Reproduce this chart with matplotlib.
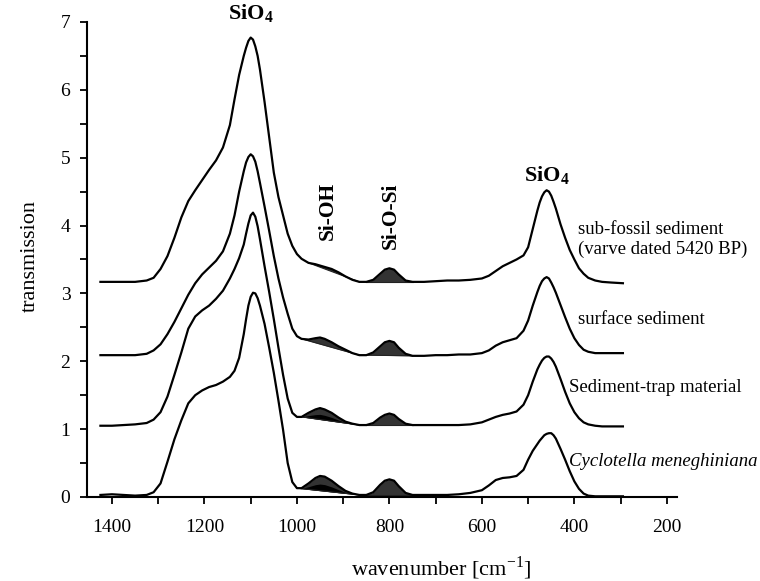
import matplotlib
matplotlib.use("Agg")
import matplotlib.pyplot as plt
import numpy as np
from matplotlib.ticker import MultipleLocator

plt.rcParams['font.family'] = ['Liberation Serif', 'DejaVu Serif']
plt.rcParams['mathtext.fontset'] = 'custom'
plt.rcParams['mathtext.rm'] = 'Liberation Serif'
plt.rcParams['mathtext.bf'] = 'Liberation Serif:bold'

# wavenumber grid (cm-1)
wavenumber = [1425, 1400, 1375, 1350, 1325, 1310, 1295, 1280, 1265, 1250,
              1235, 1220, 1205, 1190, 1175, 1160, 1145, 1135, 1125, 1115,
              1110, 1105, 1100, 1095, 1090, 1085, 1080, 1070, 1060, 1050,
              1040, 1030, 1020, 1010, 1000, 990, 975, 960, 950, 940,
              925, 910, 895, 880, 865, 850, 835, 820, 810, 800,
              790, 780, 765, 750, 725, 700, 675, 650, 625, 600,
              585, 570, 555, 540, 525, 510, 500, 490, 480, 475,
              470, 465, 460, 455, 450, 445, 440, 430, 420, 410,
              400, 390, 380, 370, 355, 340, 320, 295]

subfossil = [3.17, 3.17, 3.17, 3.17, 3.19, 3.23, 3.36, 3.55, 3.82, 4.12,
             4.36, 4.52, 4.67, 4.82, 4.96, 5.15, 5.48, 5.86, 6.22, 6.50,
             6.62, 6.72, 6.77, 6.74, 6.64, 6.50, 6.30, 5.82, 5.30, 4.78,
             4.42, 4.15, 3.88, 3.70, 3.58, 3.51, 3.45, 3.43, 3.41, 3.39,
             3.36, 3.31, 3.25, 3.20, 3.17, 3.17, 3.20, 3.29, 3.35, 3.37,
             3.35, 3.28, 3.19, 3.17, 3.17, 3.18, 3.19, 3.19, 3.20, 3.22,
             3.26, 3.33, 3.40, 3.45, 3.50, 3.56, 3.68, 3.95, 4.22, 4.34,
             4.43, 4.49, 4.52, 4.50, 4.44, 4.35, 4.25, 4.02, 3.82, 3.64,
             3.50, 3.37, 3.29, 3.23, 3.19, 3.17, 3.16, 3.15]

surface = [2.09, 2.09, 2.09, 2.09, 2.11, 2.16, 2.25, 2.40, 2.58, 2.78,
           2.98, 3.15, 3.28, 3.38, 3.48, 3.62, 3.88, 4.15, 4.50, 4.80,
           4.93, 5.01, 5.05, 5.02, 4.94, 4.80, 4.63, 4.28, 3.92, 3.55,
           3.22, 2.94, 2.70, 2.48, 2.37, 2.33, 2.32, 2.34, 2.35, 2.33,
           2.28, 2.22, 2.17, 2.12, 2.09, 2.09, 2.13, 2.22, 2.28, 2.30,
           2.28, 2.20, 2.11, 2.08, 2.08, 2.09, 2.09, 2.10, 2.10, 2.12,
           2.16, 2.23, 2.28, 2.31, 2.34, 2.45, 2.60, 2.82, 3.02, 3.11,
           3.18, 3.22, 3.24, 3.22, 3.16, 3.09, 3.01, 2.83, 2.65, 2.48,
           2.34, 2.24, 2.17, 2.14, 2.12, 2.12, 2.12, 2.12]

trap = [1.05, 1.05, 1.06, 1.07, 1.09, 1.14, 1.25, 1.48, 1.80, 2.13,
        2.48, 2.66, 2.75, 2.82, 2.92, 3.04, 3.22, 3.36, 3.52, 3.72,
        3.88, 4.03, 4.15, 4.19, 4.13, 3.99, 3.80, 3.40, 3.02, 2.62,
        2.20, 1.80, 1.45, 1.24, 1.18, 1.18, 1.24, 1.29, 1.31, 1.29,
        1.24, 1.17, 1.11, 1.08, 1.06, 1.06, 1.09, 1.17, 1.21, 1.23,
        1.21, 1.15, 1.08, 1.06, 1.06, 1.06, 1.06, 1.06, 1.07, 1.10,
        1.14, 1.18, 1.21, 1.23, 1.26, 1.36, 1.50, 1.70, 1.88, 1.95,
        2.01, 2.05, 2.07, 2.07, 2.04, 1.99, 1.92, 1.74, 1.55, 1.38,
        1.25, 1.16, 1.10, 1.07, 1.05, 1.04, 1.04, 1.04]

cyclotella = [0.03, 0.04, 0.03, 0.02, 0.03, 0.07, 0.20, 0.52, 0.85, 1.13,
              1.38, 1.50, 1.57, 1.62, 1.65, 1.70, 1.77, 1.86, 2.05, 2.40,
              2.62, 2.82, 2.95, 3.01, 3.00, 2.93, 2.82, 2.55, 2.20, 1.83,
              1.42, 0.99, 0.50, 0.22, 0.13, 0.13, 0.20, 0.28, 0.31, 0.30,
              0.24, 0.16, 0.09, 0.05, 0.03, 0.03, 0.07, 0.18, 0.24, 0.26,
              0.24, 0.16, 0.06, 0.03, 0.03, 0.03, 0.03, 0.04, 0.06, 0.10,
              0.17, 0.25, 0.28, 0.29, 0.31, 0.40, 0.55, 0.68, 0.78, 0.83,
              0.87, 0.91, 0.93, 0.94, 0.94, 0.91, 0.86, 0.71, 0.55, 0.38,
              0.23, 0.12, 0.05, 0.02, 0.01, 0.01, 0.01, 0.01]

spectra = [subfossil, surface, trap, cyclotella]
# Si-OH band limits per spectrum (start, end) and Si-O-Si band limits
sioh_bands = [(975, 865), (990, 865), (990, 865), (1000, 865)]
siosi_band = (850, 750)

labels = ["sub-fossil sediment\n(varve dated 5420 BP)", "surface sediment",
          "Sediment-trap material", "Cyclotella meneghiniana"]
label_x = [392, 392, 412, 412]
label_y = [3.79, 2.61, 1.62, 0.52]

fig = plt.figure(figsize=(7.6, 5.81), dpi=100)
ax = fig.add_axes([0.1145, 0.1446, 0.7763, 0.8176])

wn = np.array(wavenumber, dtype=float)


def fill_band(ax, y, lo_hi, black=False):
    a, b = lo_hi
    m = (wn <= a) & (wn >= b)
    xs = wn[m]
    ys = y[m]
    base = np.interp(xs, [xs[-1], xs[0]], [ys[-1], ys[0]])
    ax.fill_between(xs, base, ys, where=ys >= base, color='#333333', lw=0, zorder=2)
    if black:
        ax.fill_between(xs, base, base + 0.45 * np.clip(ys - base, 0, None),
                        color='black', lw=0, zorder=2)
    ax.plot(xs[[0, -1]], base[[0, -1]], color='#222222', lw=0.8, zorder=2)


for i, s in enumerate(spectra):
    y = np.array(s, dtype=float)
    fill_band(ax, y, sioh_bands[i], black=(i >= 2))
    fill_band(ax, y, siosi_band)
    ax.plot(wn, y, color='black', lw=1.6, zorder=3, solid_joinstyle='round')
    style = 'italic' if i == 3 else 'normal'
    ax.text(label_x[i], label_y[i], labels[i], fontsize=13.5, style=style,
            ha='left', va='center', linespacing=1.2)

ax.text(1100, 6.95, r'SiO$_\mathbf{4}$', fontsize=16, fontweight='bold',
        ha='center', va='bottom', clip_on=False)
ax.text(459, 4.57, r'SiO$_\mathbf{4}$', fontsize=16, fontweight='bold',
        ha='center', va='bottom')
ax.text(933, 4.21, 'Si-OH', fontsize=15.5, fontweight='bold', rotation=90,
        ha='center', va='center')
ax.text(797, 4.15, 'Si-O-Si', fontsize=15.5, fontweight='bold', rotation=90,
        ha='center', va='center')

ax.set_xlim(1454, 178)
ax.set_ylim(0, 7)
ax.xaxis.set_major_locator(MultipleLocator(200))
ax.xaxis.set_minor_locator(MultipleLocator(100))
ax.yaxis.set_major_locator(MultipleLocator(1))
ax.yaxis.set_minor_locator(MultipleLocator(0.5))
for side in ['top', 'right']:
    ax.spines[side].set_visible(False)
for side in ['left', 'bottom']:
    ax.spines[side].set_linewidth(1.5)
ax.tick_params(axis='both', which='both', direction='out', length=5, width=1.3,
               labelsize=14)
ax.tick_params(axis='x', which='both', pad=11)
ax.tick_params(axis='y', which='both', pad=7)

fig.text(0.04, 0.56, 'transmission', rotation=90, fontsize=16,
         ha='center', va='center')
fig.text(0.58, 0.022, r'wavenumber [cm$^{\mathrm{-1}}$]', fontsize=16,
         ha='center', va='center')

fig.savefig('out.png', dpi=100)
